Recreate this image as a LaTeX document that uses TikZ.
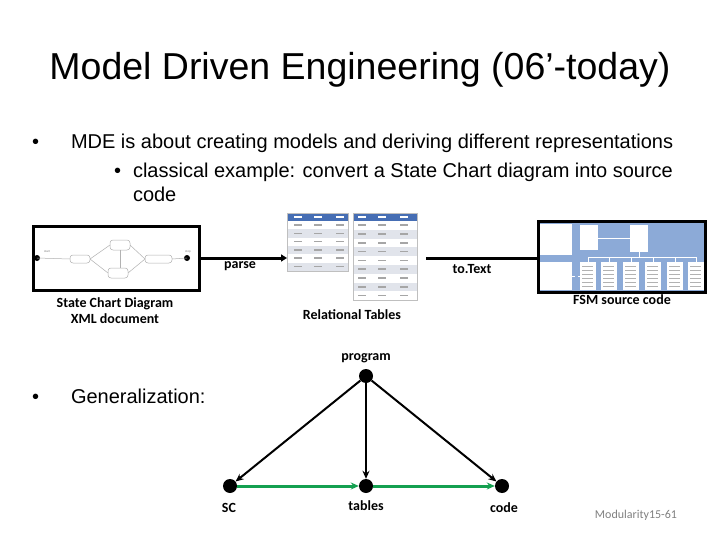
\documentclass[tikz,border=0pt]{standalone}
\usepackage{fontspec}
\setmainfont{Liberation Sans}
\newfontfamily\lblfont{Carlito}
\usetikzlibrary{arrows.meta}
\definecolor{mdgreen}{RGB}{20,160,80}
\definecolor{hdrblue}{RGB}{70,110,180}
\definecolor{fsmblue}{RGB}{140,170,215}
\definecolor{rowgray}{RGB}{225,228,235}
\tikzset{
  txt/.style={inner sep=0pt, outer sep=0pt},
  lbl/.style={inner sep=0pt, font=\lblfont\bfseries\fontsize{14}{16.5}\selectfont},
  dot/.style={circle, fill=black, inner sep=0pt, minimum size=14pt},
  imgbox/.style={draw=black, line width=3pt},
  flow/.style={line width=3pt},
  gen/.style={line width=2pt, -{Stealth[length=8pt,width=7pt]}},
  gflow/.style={line width=3pt, draw=mdgreen, -{Stealth[length=8pt,width=7pt]}},
  thin/.style={draw=gray!60, line width=0.5pt}
}
\begin{document}
\begin{tikzpicture}[x=1pt,y=-1pt]
\useasboundingbox[fill=white] (0,0) rectangle (720,540);

% title
\node[txt, font=\fontsize{37.5}{42}\selectfont] (title) at (360,70) {Model Driven Engineering (06'-today)};

% bullets
\node[txt, anchor=base west, font=\fontsize{20}{24}\selectfont] (b1dot) at (32,149) {•};
\node[txt, anchor=base west, font=\fontsize{20}{24}\selectfont] (b1) at (71,149) {MDE is about creating models and deriving different representations};
\node[txt, anchor=base west, font=\fontsize{20}{24}\selectfont] (b2dot) at (114,178) {•};
\node[txt, anchor=base west, font=\fontsize{20}{24}\selectfont] (b2) at (133,178) {classical example: convert a State Chart diagram into source};
\node[txt, anchor=base west, font=\fontsize{20}{24}\selectfont] (b2b) at (133,202) {code};
\node[txt, anchor=base west, font=\fontsize{20}{24}\selectfont] (b3dot) at (32,403) {•};
\node[txt, anchor=base west, font=\fontsize{20}{24}\selectfont] (b3) at (71,403) {Generalization:};

% state chart box
\node[imgbox, minimum width=166pt, minimum height=63pt, inner sep=0pt] (sc) at (116,258.5) {};
\begin{scope}
  \fill[black] (37,258) circle (3pt);
  \fill[black] (187,258) circle (3pt);
  \draw[thin] (37,258) -- (70,259);
  \draw[thin, rounded corners=3pt] (70,255) rectangle (90,263);
  \draw[thin, rounded corners=3pt] (110,240) rectangle (130,250);
  \draw[thin, rounded corners=3pt] (108,268) rectangle (128,278);
  \draw[thin, rounded corners=3pt] (145,255) rectangle (172,263);
  \draw[thin] (90,259) -- (110,245);
  \draw[thin] (90,259) -- (108,273);
  \draw[thin] (130,245) -- (145,259);
  \draw[thin] (128,273) -- (145,259);
  \draw[thin] (120,250) -- (120,268);
  \draw[thin] (172,259) -- (187,258);
  \node[font=\fontsize{3}{3}\selectfont, text=gray] at (47,252) {start};
  \node[font=\fontsize{3}{3}\selectfont, text=gray] at (188,252) {stop};
\end{scope}
\coordinate (scR) at (199.5,258);

% tables
\begin{scope}
  \fill[hdrblue] (287,213) rectangle (348,221);
  \foreach \i in {0,...,5} {
    \pgfmathsetmacro{\yy}{221+\i*8.3}
    \ifodd\i \fill[rowgray] (287,\yy) rectangle (348,\yy+8.3); \fi
  }
  \draw[gray!50, line width=0.3pt] (287,213) rectangle (348,271);
  \fill[hdrblue] (353,213) rectangle (417,221);
  \foreach \i in {0,...,8} {
    \pgfmathsetmacro{\yy}{221+\i*8.8}
    \ifodd\i \fill[rowgray] (353,\yy) rectangle (417,\yy+8.8); \fi
  }
  \draw[gray!50, line width=0.3pt] (353,213) rectangle (417,300);
  \foreach \i in {0,...,5} {
    \foreach \c in {294,314,336} {
      \fill[gray!70] (\c,221+\i*8.3+3.2) rectangle (\c+8,221+\i*8.3+4.8);
    }
  }
  \foreach \i in {0,...,8} {
    \foreach \c in {358,378,400} {
      \fill[gray!70] (\c,221+\i*8.8+3.4) rectangle (\c+8,221+\i*8.8+5);
    }
  }
  \foreach \c in {294,314,336} \fill[white] (\c,216.3) rectangle (\c+8,217.7);
  \foreach \c in {358,378,400} \fill[white] (\c,216.3) rectangle (\c+8,217.7);
\end{scope}
\coordinate (tabL) at (287,258);
\coordinate (tabR) at (426,258);

% FSM box
\fill[fsmblue] (538,222) rectangle (705,292);
\begin{scope}
  \fill[white] (540,224) rectangle (572,255);
  \fill[white] (540,262) rectangle (572,290);
  \fill[white] (580,225) rectangle (598,250);
  \fill[white] (630,225) rectangle (648,252);
  \foreach \x in {580,601,623,645,667,688} {
    \fill[white] (\x,262) rectangle (\x+16,290);
    \draw[white, line width=0.4pt] (\x+8,262) -- (\x+8,257);
  }
  \draw[white, line width=0.4pt] (588,257) -- (696,257);
  \draw[white, line width=0.4pt] (639,252) -- (639,257);
  \draw[white, line width=0.4pt] (598,238) -- (630,238);
  \draw[white, line width=0.4pt, dashed] (572,276) -- (580,276);
  \foreach \x in {580,601,623,645,667,688} {
    \foreach \k in {0,...,5} \fill[gray!60] (\x+2,266+\k*4) rectangle (\x+13,266.8+\k*4);
  }
\end{scope}
\node[imgbox, minimum width=167pt, minimum height=70pt, inner sep=0pt, fill=none] (fsm) at (621.5,257) {};
\coordinate (fsmL) at (536.5,258);

% flow connectors
\draw[flow, -{Triangle[length=6pt,width=7pt]}] (scR) -- (tabL);
\draw[flow] (tabR) -- (fsmL);

% labels
\node[lbl] (parse) at (240,266) {parse};
\node[lbl] (totext) at (472,269) {to.Text};
\node[lbl, align=center] (sclbl) at (115,310.5) {State Chart Diagram\\XML document};
\node[lbl] (rtlbl) at (352,315) {Relational Tables};
\node[lbl] (fsmlbl) at (622,300) {FSM source code};

% generalization graph
\node[dot] (prog) at (366,376) {};
\node[dot] (scn) at (230,486) {};
\node[dot] (tab) at (366,486) {};
\node[dot] (code) at (502,486) {};
\draw[gen] (prog) -- (scn);
\draw[gen] (prog) -- (tab);
\draw[gen] (prog) -- (code);
\draw[gflow] (scn) -- (tab);
\draw[gflow] (tab) -- (code);
\node[lbl] (proglbl) at (366,358) {program};
\node[lbl] (sclbl2) at (229,508) {SC};
\node[lbl] (tablbl) at (366,506) {tables};
\node[lbl] (codelbl) at (504,508) {code};

\node[txt, font=\lblfont\fontsize{12}{14}\selectfont, text=gray] (footer) at (636,515) {Modularity15-61};
\end{tikzpicture}
\end{document}
